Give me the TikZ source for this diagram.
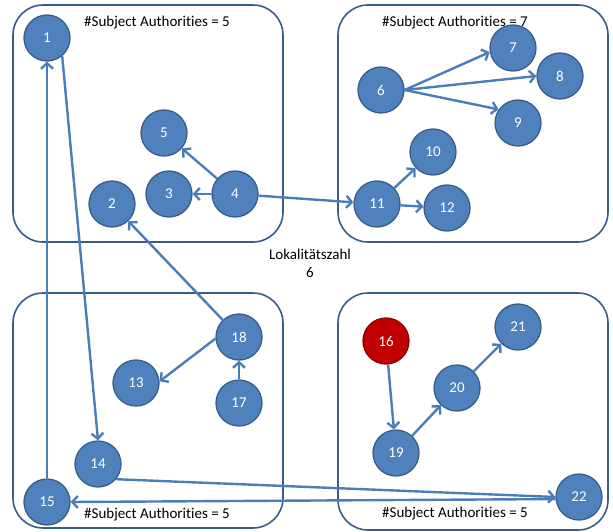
\documentclass[tikz,border=0pt]{standalone}
\usepackage{fontspec}
\setmainfont[Ligatures={NoCommon,NoContextual},RawFeature={-liga;-clig;-dlig;-calt}]{Carlito}
\usetikzlibrary{arrows.meta}
\definecolor{nodefill}{HTML}{4F81BD}
\definecolor{nodeline}{HTML}{385D8A}
\definecolor{redfill}{HTML}{C00000}
\definecolor{redline}{HTML}{8C0000}
\definecolor{edgecol}{HTML}{4A7EBB}
\definecolor{boxline}{HTML}{385D8A}
\begin{document}
\begin{tikzpicture}[x=1pt,y=-1pt,
  vertex/.style={circle, fill=nodefill, draw=nodeline, line width=1.3pt, minimum size=46pt, inner sep=0pt, text=white, font=\fontsize{15}{18}\selectfont},
  hot/.style={vertex, fill=redfill, draw=redline},
  group/.style={draw=boxline, line width=1.6pt, rounded corners=30pt},
  link/.style={draw=edgecol, line width=2.4pt, -{Straight Barb[length=5.5pt,width=12pt]}},
  annot/.style={font=\fontsize{15}{18}\selectfont, inner sep=0pt}]
\useasboundingbox (0,0) rectangle (613,532);
% groups
\draw[group] (13,5) rectangle (283,242);
\draw[group] (338,5) rectangle (608,242);
\draw[group] (13,293) rectangle (283,528);
\draw[group] (338,293) rectangle (608,530);
% texts
\node[annot] (t1) at (157,23) {\#Subject Authori{}ties = 5};
\node[annot] (t2) at (455,23) {\#Subject Authori{}ties = 7};
\node[annot] (t3) at (157,515) {\#Subject Authori{}ties = 5};
\node[annot] (t4) at (455,514) {\#Subject Authori{}ties = 5};
\node[annot, align=center] (lz) at (310,263) {Lokalitätszahl\\6};
% nodes
\node[vertex] (n1) at (47,38) {1};
\node[vertex] (n2) at (112,204) {2};
\node[vertex] (n3) at (169,194) {3};
\node[vertex] (n4) at (235,194) {4};
\node[vertex] (n5) at (164,133) {5};
\node[vertex] (n6) at (381,90) {6};
\node[vertex] (n7) at (513,48) {7};
\node[vertex] (n8) at (560,76) {8};
\node[vertex] (n9) at (518,123) {9};
\node[vertex] (n10) at (433,152) {10};
\node[vertex] (n11) at (377,204) {11};
\node[vertex] (n12) at (447,208) {12};
\node[vertex] (n13) at (136,383) {13};
\node[vertex] (n14) at (98,464) {14};
\node[vertex] (n15) at (47,502) {15};
\node[hot] (n16) at (386,341) {16};
\node[vertex] (n17) at (239,403) {17};
\node[vertex] (n18) at (239,337) {18};
\node[vertex] (n19) at (396,453) {19};
\node[vertex] (n20) at (457,388) {20};
\node[vertex] (n21) at (518,327) {21};
\node[vertex] (n22) at (579,497) {22};
% connectors
\draw[link] (n15.north) -- (n1.south);
\draw[link] (n1.-50) -- (n14.north);
\draw[link] (n4) -- (n5);
\draw[link] (n4) -- (n3);
\draw[link] (n4) -- (n11);
\draw[link] (n18) -- (n2);
\draw[link] (n18.184) -- (n13.4);
\draw[link] (n17) -- (n18);
\draw[link] (n6.east) -- (n7.190);
\draw[link] (n6.east) -- (n8.west);
\draw[link] (n6.east) -- (n9.145);
\draw[link] (n11) -- (n10);
\draw[link] (n11) -- (n12);
\draw[link] (n16) -- (n19);
\draw[link] (n19) -- (n20);
\draw[link] (n20) -- (n21);
\draw[link] (n14.-40) -- (n22.west);
\draw[link] (n22.185) -- (n15.east);
\end{tikzpicture}
\end{document}
